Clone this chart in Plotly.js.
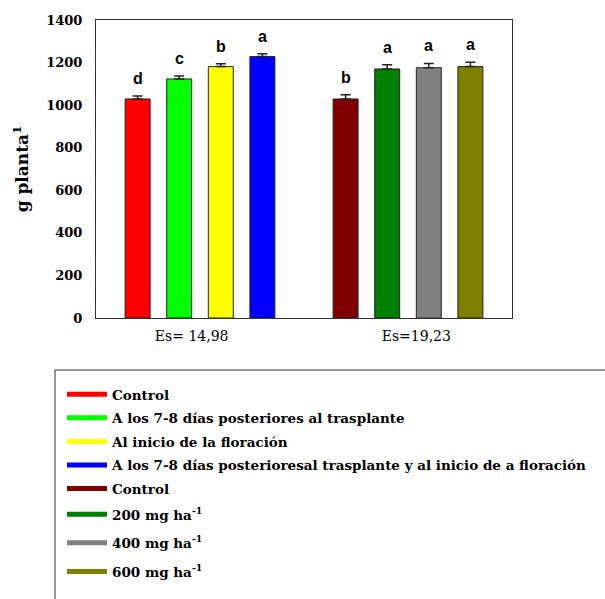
<!DOCTYPE html>
<html>
<head>
<meta charset="utf-8">
<script src="https://cdn.plot.ly/plotly-3.0.1.min.js"></script>
<style>html,body{margin:0;padding:0;background:#fff;}#chart{width:605px;height:599px;}</style>
</head>
<body>
<div id="chart"></div>
<script>
// Data
const seriesNames = [
  "Control",
  "A los 7-8 días posteriores al trasplante",
  "Al inicio de la floración",
  "A los 7-8 días posterioresal trasplante y al inicio de a floración",
  "Control",
  "200 mg ha<sup>-1</sup>",
  "400 mg ha<sup>-1</sup>",
  "600 mg ha<sup>-1</sup>"
];
const barPositions = [1, 2, 3, 4, 6, 7, 8, 9];
const values = [1029, 1123, 1181, 1228, 1029, 1170, 1176, 1181];
const errors = [14, 14, 14, 14, 20, 20, 20, 20];
const letters = ["d", "c", "b", "a", "b", "a", "a", "a"];
const colors = ["#ff0000", "#00ff00", "#ffff00", "#0000ff", "#800000", "#008000", "#808080", "#808000"];
const legendOf = ["legend", "legend", "legend", "legend", "legend", "legend2", "legend2", "legend2"];
const groupTickVals = [2.3, 7.7];
const groupTickText = ["Es= 14,98", "Es=19,23"];
const yTicks = [0, 200, 400, 600, 800, 1000, 1200, 1400];

const serif = "DejaVu Serif, Liberation Serif, serif";

const traces = [];
for (let i = 0; i < values.length; i++) {
  traces.push({
    type: "bar",
    x: [barPositions[i]],
    y: [values[i]],
    width: 0.6,
    marker: {color: colors[i], line: {color: "#222222", width: 1}},
    error_y: {type: "data", symmetric: false, array: [errors[i]], arrayminus: [0], color: "#222222", thickness: 1.5, width: 5},
    showlegend: false,
    hoverinfo: "skip"
  });
}
for (let i = 0; i < values.length; i++) {
  traces.push({
    type: "scatter",
    mode: "lines",
    x: [null],
    y: [null],
    name: seriesNames[i],
    line: {color: colors[i], width: 5},
    legendgroup: "g" + i,
    legend: legendOf[i],
    showlegend: true
  });
}

const annotations = letters.map((t, i) => ({
  x: barPositions[i],
  y: values[i] + errors[i],
  xref: "x", yref: "y",
  text: t,
  showarrow: false,
  yanchor: "bottom",
  yshift: 7,
  font: {family: "Liberation Sans, Arial, sans-serif", size: 16, color: "#000", weight: "bold"}
}));

const legendBase = {
  x: (62 - 96) / 416,
  xanchor: "left",
  yanchor: "top",
  bgcolor: "rgba(0,0,0,0)",
  borderwidth: 0,
  itemwidth: 40,
  font: {family: serif, size: 13.5, color: "#000", weight: "bold"}
};

const layout = {
  width: 605, height: 599,
  margin: {l: 96, r: 93, t: 20, b: 281},
  paper_bgcolor: "#ffffff",
  plot_bgcolor: "#ffffff",
  showlegend: true,
  xaxis: {
    range: [0, 10],
    tickvals: groupTickVals,
    ticktext: groupTickText,
    ticks: "",
    showgrid: false,
    zeroline: false,
    showline: true,
    linecolor: "#333333",
    linewidth: 1,
    mirror: true,
    ticklabelstandoff: 5,
    tickfont: {family: serif, size: 14, color: "#000"}
  },
  yaxis: {
    range: [0, 1400],
    tickvals: yTicks,
    ticks: "",
    showgrid: false,
    zeroline: false,
    showline: true,
    linecolor: "#333333",
    linewidth: 1,
    mirror: true,
    ticklabelstandoff: 10,
    tickfont: {family: serif, size: 13, color: "#000", weight: "bold"},
    title: {
      text: "g planta<sup>1</sup>",
      font: {family: serif, size: 17, color: "#000", weight: "bold"},
      standoff: 13
    }
  },
  legend: Object.assign({}, legendBase, {y: (318 - 379) / 298, tracegroupgap: 3}),
  legend2: Object.assign({}, legendBase, {y: (318 - 499) / 298, tracegroupgap: 8}),
  shapes: [{
    type: "rect", xref: "paper", yref: "paper",
    x0: (55 - 96) / 416, x1: 1.5,
    y0: (318 - 370) / 298, y1: -1.5,
    line: {color: "#333333", width: 1},
    fillcolor: "rgba(0,0,0,0)"
  }],
  annotations: annotations
};

Plotly.newPlot("chart", traces, layout, {displayModeBar: false, staticPlot: true});
</script>
</body>
</html>
